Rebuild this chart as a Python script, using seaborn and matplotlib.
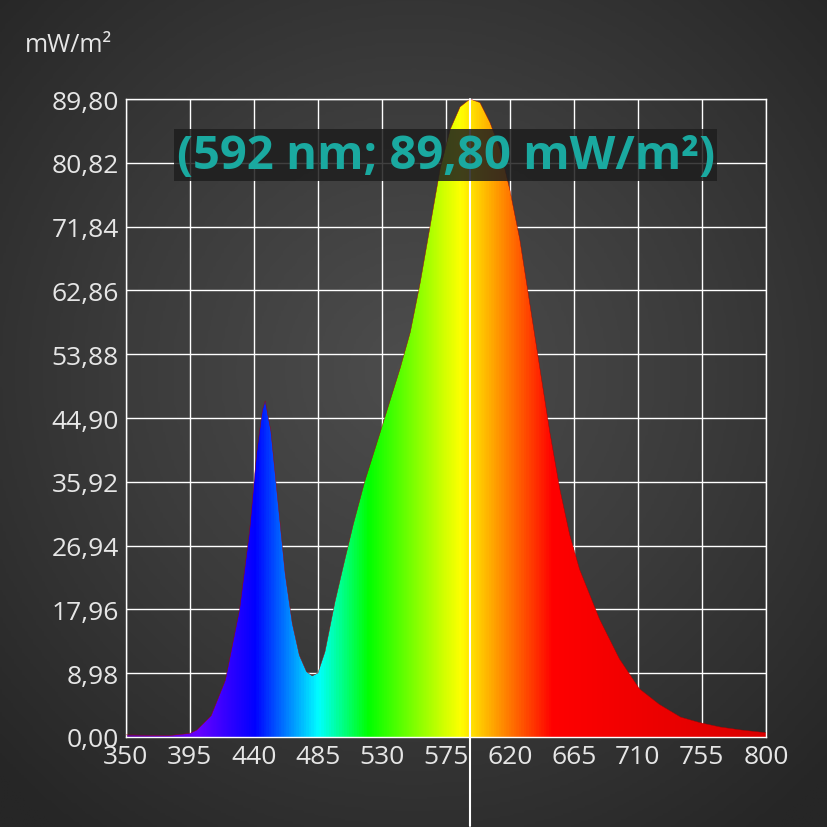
import numpy as np
import pandas as pd
import matplotlib.pyplot as plt
import seaborn as sns
from matplotlib.colors import LinearSegmentedColormap
from matplotlib.patches import Polygon

# spectrum (nm, mW/m²)
wavelength = [350, 380, 395, 400, 410, 420, 430, 437, 442, 446, 448, 452, 457, 462, 467, 472, 477,
              481, 485, 490, 493, 497, 504, 510, 518, 529, 543, 550, 557, 564, 571, 578, 585, 592,
              599, 606, 613, 620, 627, 634, 641, 648, 655, 662, 669, 683, 697, 711, 725, 740, 754,
              768, 782, 800]
power = [0.3, 0.2, 0.5, 1.0, 3.0, 8.0, 18.0, 29.0, 40.0, 46.0, 47.3, 43.0, 33.0, 23.0, 16.0, 11.5, 9.2,
         8.6, 9.0, 12.0, 15.0, 19.0, 25.0, 30.0, 36.0, 43.0, 52.0, 57.0, 64.0, 72.0, 80.0, 85.5, 88.7, 89.8,
         89.3, 86.5, 82.8, 77.0, 70.0, 61.0, 52.0, 43.0, 35.0, 28.5, 23.6, 16.6, 11.0, 6.8, 4.6, 2.8, 2.0,
         1.4, 1.0, 0.6]
y_ticks = [0, 8.98, 17.96, 26.94, 35.92, 44.90, 53.88, 62.86, 71.84, 80.82, 89.80]
x_ticks = list(range(350, 801, 45))
peak_nm, peak_val = 592, 89.80

sns.set_style("dark")
plt.rcParams['font.family'] = ['Open Sans', 'DejaVu Sans']

fig = plt.figure(figsize=(8.28, 8.28), dpi=100)

# dark radial background
bg = fig.add_axes([0, 0, 1, 1])
yy, xx = np.mgrid[-1:1:300j, -1:1:300j]
r = np.sqrt(xx**2 + (yy + 0.1)**2)
bg.imshow(r, cmap=LinearSegmentedColormap.from_list('bg', ['#4d4d4d', '#3b3b3b', '#262626']),
          extent=[0, 1, 0, 1], aspect='auto', vmin=0, vmax=1.4)
bg.axis('off')

ax = fig.add_axes([0.152, 0.1087, 0.773, 0.7705])
ax.set_facecolor('none')
df = pd.DataFrame({'nm': wavelength, 'mw': power})

spec = LinearSegmentedColormap.from_list('spec', [
    (0.0, (0.35, 0.0, 0.6)), ((400 - 350) / 450, (0.4, 0.0, 1.0)), ((440 - 350) / 450, (0.0, 0.0, 1.0)),
    ((485 - 350) / 450, (0.0, 1.0, 1.0)), ((520 - 350) / 450, (0.0, 1.0, 0.0)),
    ((585 - 350) / 450, (1.0, 1.0, 0.0)), ((650 - 350) / 450, (1.0, 0.0, 0.0)), (1.0, (0.85, 0.0, 0.0))])
img = ax.imshow(np.linspace(0, 1, 900)[None, :], cmap=spec, extent=[350, 800, 0, 89.8],
                aspect='auto', zorder=2)
poly = Polygon(list(zip(wavelength, power)) + [(800, 0), (350, 0)], closed=True,
               facecolor='none', edgecolor='none')
ax.add_patch(poly)
img.set_clip_path(poly)
sns.lineplot(data=df, x='nm', y='mw', ax=ax, color='#aa0000', lw=0.3, zorder=3)

ax.set_xlim(350, 800)
ax.set_ylim(0, 89.8)
ax.set_xticks(x_ticks)
ax.set_yticks(y_ticks)
ax.set_yticklabels([f"{v:.2f}".replace('.', ',') for v in y_ticks])
ax.grid(True, color='white', lw=1, zorder=1)
for s in ax.spines.values():
    s.set_color('white')
    s.set_linewidth(1)
ax.tick_params(colors='#e6e6e6', labelsize=19, length=0, pad=5)
ax.set_xlabel('')
ax.set_ylabel('')

ax.axvline(peak_nm, ymin=-0.14, ymax=1, color='white', lw=1.5, clip_on=False, zorder=4)
ax.text(0.5, 0.912, f"({peak_nm} nm; {peak_val:.2f} mW/m²)".replace('.', ','),
        transform=ax.transAxes, ha='center', va='center', fontsize=34, fontweight='bold',
        color='#1aa9a0', zorder=5,
        bbox=dict(boxstyle='square,pad=0.05', facecolor='#1e1e1e', edgecolor='none', alpha=0.85))
fig.text(0.03, 0.945, 'mW/m²', color='#e6e6e6', fontsize=18, ha='left', va='center')

fig.savefig('out.png', dpi=100)
